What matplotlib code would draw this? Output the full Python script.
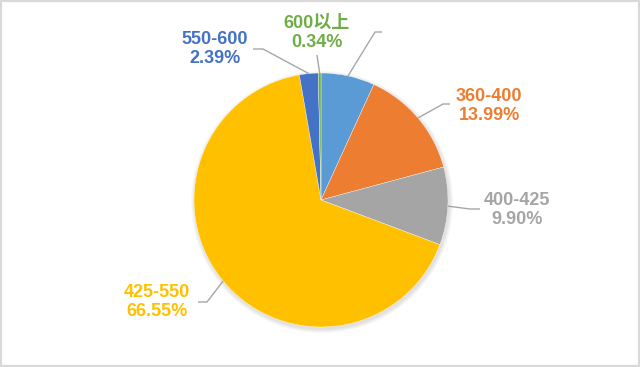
import numpy as np
import matplotlib
matplotlib.use("Agg")
import matplotlib.pyplot as plt
from matplotlib.patches import Circle, Rectangle

# ---- data ----
categories = ["360以下", "360-400", "400-425", "425-550", "550-600", "600以上"]
shares = [6.83, 13.99, 9.90, 66.55, 2.39, 0.34]
pct_labels = ["6.83%", "13.99%", "9.90%", "66.55%", "2.39%", "0.34%"]
show_text = [False, True, True, True, True, True]
colors = ["#5B9BD5", "#ED7D31", "#A5A5A5", "#FFC000", "#4472C4", "#70AD47"]

# ---- layout (pixel units, y measured from bottom) ----
W, H = 640, 367
center = (321, 167)
radius = 127
# elbow point, end point of leader line, text centre
elbows = [(375, 335), (443, 263), (470, 158), (207, 65), (263, 318), (317, 312)]
ends = [(382, 335), (450, 263), (480, 158), (198, 65), (253, 318), (317, 312)]
text_pos = [(400, 334), (489, 261), (517, 157), (157, 65), (215, 318), (317, 334)]

fig = plt.figure(figsize=(6.4, 3.67), dpi=100)
ax = fig.add_axes([0, 0, 1, 1])
ax.set_xlim(0, W)
ax.set_ylim(0, H)
ax.set_aspect("equal")
ax.axis("off")

# soft shadow
for k in range(6, 0, -1):
    ax.add_patch(Circle((center[0] + 1, center[1] - 2), radius + k * 0.7,
                        color="black", alpha=0.018, lw=0, zorder=0))

wedges, _ = ax.pie(shares, colors=colors, startangle=90, counterclock=False,
                   center=center, radius=radius, frame=True,
                   wedgeprops=dict(edgecolor="white", linewidth=0.25))
ax.set_xlim(0, W)
ax.set_ylim(0, H)
ax.axis("off")

font_family = ["Liberation Sans", "Noto Sans CJK SC", "DejaVu Sans"]
for i, w in enumerate(wedges):
    mid = np.deg2rad((w.theta1 + w.theta2) / 2)
    p0 = (center[0] + radius * np.cos(mid), center[1] + radius * np.sin(mid))
    xs = [p0[0], elbows[i][0], ends[i][0]]
    ys = [p0[1], elbows[i][1], ends[i][1]]
    ax.plot(xs, ys, color="#A6A6A6", lw=1.0, zorder=3, solid_capstyle="butt")
    if show_text[i]:
        ax.text(text_pos[i][0], text_pos[i][1],
                categories[i] + "\n" + pct_labels[i],
                ha="center", va="center", color=colors[i],
                fontsize=13, fontweight="bold", family=font_family,
                linespacing=1.15, zorder=4)

# frame border
fig.patches.append(Rectangle((0, 0), 1, 1, transform=fig.transFigure,
                             fill=False, edgecolor="#D9D9D9", linewidth=3))

fig.savefig("out.png", dpi=100, facecolor="white")
